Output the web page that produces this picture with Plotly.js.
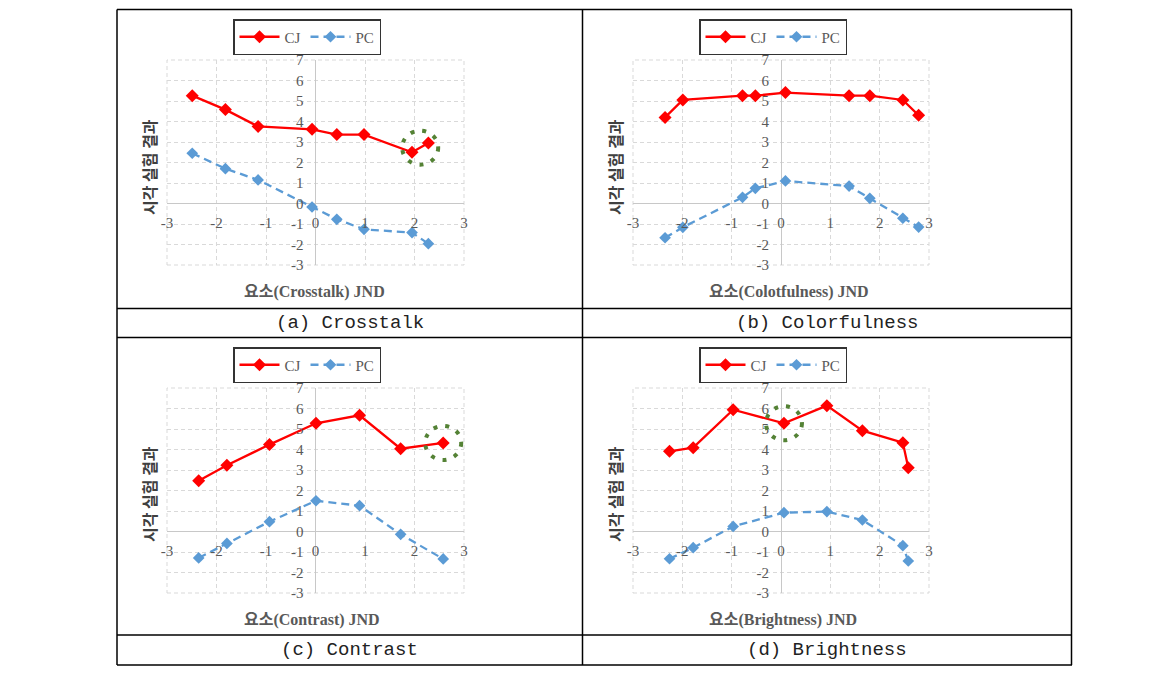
<!DOCTYPE html>
<html>
<head>
<meta charset="utf-8">
<script src="https://cdn.plot.ly/plotly-3.0.1.min.js"></script>
<style>html,body{margin:0;padding:0;background:#fff;}#chart{width:1151px;height:673px;}</style>
</head>
<body>
<div id="chart"></div>
<script>
// ---- data ----
const seriesNames = ["CJ", "PC"];

const crosstalkX  = [-2.49, -1.82, -1.16, -0.07, 0.43, 0.98, 1.95, 2.28];
const crosstalkCJ = [5.26, 4.58, 3.76, 3.62, 3.36, 3.36, 2.50, 2.95];
const crosstalkPC = [2.45, 1.70, 1.15, -0.17, -0.77, -1.26, -1.42, -1.96];

const colorX  = [-2.35, -1.99, -0.78, -0.52, 0.09, 1.38, 1.80, 2.47, 2.79];
const colorCJ = [4.20, 5.05, 5.26, 5.26, 5.41, 5.26, 5.26, 5.05, 4.30];
const colorPC = [-1.67, -1.16, 0.30, 0.74, 1.10, 0.85, 0.25, -0.72, -1.15];

const contrastX  = [-2.36, -1.79, -0.93, 0.01, 0.89, 1.72, 2.58];
const contrastCJ = [2.48, 3.23, 4.24, 5.28, 5.67, 4.04, 4.32];
const contrastPC = [-1.29, -0.58, 0.48, 1.50, 1.26, -0.14, -1.34];

const brightX  = [-2.26, -1.78, -0.97, 0.06, 0.93, 1.65, 2.47, 2.58];
const brightCJ = [3.91, 4.09, 5.94, 5.28, 6.14, 4.92, 4.33, 3.11];
const brightPC = [-1.33, -0.79, 0.25, 0.92, 0.97, 0.56, -0.69, -1.44];

const xTickVals = [-3, -2, -1, 0, 1, 2, 3];
const xTickText = ["-3", "-2", "-1", "0", "1", "2", "3"];
const yTickVals = [-3, -2, -1, 0, 1, 2, 3, 4, 5, 6, 7];
const yTickText = ["-3", "-2", "-1", "0", "1", "2", "3", "4", "5", "6", "7"];

const xTitles  = ["요소(Crosstalk) JND", "요소(Colotfulness) JND", "요소(Contrast) JND", "요소(Brightness) JND"];
const yTitle   = "시각 실험 결과";
const captions = ["(a) Crosstalk", "(b) Colorfulness", "(c) Contrast", "(d) Brightness"];

// highlighted CJ point indices (dotted circle centred on their mean)
const highlightIdx = [[6, 7], [], [6], [3]];

// ---- layout helpers ----
const W = 1151, H = 673;
const px = x => x / W;
const py = y => 1 - y / H;
const XR = [-3, 3], YR = [-3, 7];

const panels = [
  {x: crosstalkX, cj: crosstalkCJ, pc: crosstalkPC, box: [167, 464, 60, 265], col: 0, row: 0, tx: 314},
  {x: colorX,     cj: colorCJ,     pc: colorPC,     box: [633, 929, 60, 265], col: 1, row: 0, tx: 789},
  {x: contrastX,  cj: contrastCJ,  pc: contrastPC,  box: [167, 464, 388, 593], col: 0, row: 1, tx: 312},
  {x: brightX,    cj: brightCJ,    pc: brightPC,    box: [633, 929, 388, 593], col: 1, row: 1, tx: 783}
];

const tickFont = {family: "Liberation Serif, serif", size: 15, color: "#595959"};
const gridCol = "#d9d9d9";
const traces = [];
const layout = {
  width: W, height: H,
  margin: {l: 0, r: 0, t: 0, b: 0},
  paper_bgcolor: "#ffffff", plot_bgcolor: "rgba(0,0,0,0)",
  showlegend: true,
  shapes: [], annotations: []
};

panels.forEach((p, i) => {
  const n = i === 0 ? "" : String(i + 1);
  const [x0, x1, yTop, yBot] = p.box;
  const xd = [px(x0), px(x1)];
  const yd = [py(yBot), py(yTop)];
  const xPos = xd[0] + (0 - XR[0]) / (XR[1] - XR[0]) * (xd[1] - xd[0]);
  const yPos = yd[0] + (0 - YR[0]) / (YR[1] - YR[0]) * (yd[1] - yd[0]);
  const legName = i === 0 ? "legend" : "legend" + (i + 1);

  layout["xaxis" + n] = {
    domain: xd, range: XR, anchor: "free", position: yPos,
    tickmode: "array", tickvals: xTickVals, ticktext: xTickText,
    showgrid: true, gridcolor: gridCol, griddash: "4px,3px", gridwidth: 1,
    zeroline: true, zerolinecolor: "#c8c8c8", zerolinewidth: 1,
    showline: false, ticks: "", ticklabelstandoff: 8,
    tickfont: tickFont, fixedrange: true
  };
  layout["yaxis" + n] = {
    domain: yd, range: YR, anchor: "free", position: xPos,
    tickmode: "array", tickvals: yTickVals, ticktext: yTickText,
    showgrid: true, gridcolor: gridCol, griddash: "4px,3px", gridwidth: 1,
    zeroline: true, zerolinecolor: "#c8c8c8", zerolinewidth: 1,
    showline: false, ticks: "", ticklabelstandoff: 12,
    tickfont: tickFont, fixedrange: true
  };

  // dashed plot-area frame
  layout.shapes.push({
    type: "rect", xref: "x" + n + " domain", yref: "y" + n + " domain",
    x0: 0, x1: 1, y0: 0, y1: 1, layer: "below",
    line: {color: gridCol, width: 1, dash: "4px,3px"}
  });

  traces.push({
    type: "scatter", mode: "lines+markers", name: seriesNames[0],
    x: p.x, y: p.cj, xaxis: "x" + n, yaxis: "y" + n, legend: legName,
    line: {color: "#ff0000", width: 2.3},
    marker: {symbol: "diamond", size: 10, color: "#ff0000"}
  });
  traces.push({
    type: "scatter", mode: "lines+markers", name: seriesNames[1],
    x: p.x, y: p.pc, xaxis: "x" + n, yaxis: "y" + n, legend: legName,
    line: {color: "#5b9bd5", width: 2.3, dash: "8px,5px"},
    marker: {symbol: "diamond", size: 9, color: "#5b9bd5"}
  });

  const legLeft = p.col === 0 ? 233 : 699;
  const legTop = p.row === 0 ? 19 : 347;
  layout[legName] = {
    x: px(legLeft), y: py(legTop), xanchor: "left", yanchor: "top",
    orientation: "h", bgcolor: "#ffffff", bordercolor: "#333333", borderwidth: 1.5,
    font: {family: "Liberation Serif, serif", size: 15, color: "#595959"},
    itemwidth: 40, tracegroupgap: 0
  };

  // dotted highlight circle
  const idx = highlightIdx[i];
  if (idx.length) {
    const cx = idx.reduce((s, k) => s + p.x[k], 0) / idx.length;
    const cy = idx.reduce((s, k) => s + p.cj[k], 0) / idx.length;
    layout.shapes.push({
      type: "circle", xref: "x" + n, yref: "y" + n,
      xsizemode: "pixel", ysizemode: "pixel", xanchor: cx, yanchor: cy,
      x0: -18, x1: 18, y0: -17, y1: 17,
      line: {color: "#548235", width: 4, dash: "4px,8px"}
    });
  }

  // axis titles
  layout.annotations.push({
    xref: "paper", yref: "paper", x: px(p.tx), y: py(p.row === 0 ? 292 : 620),
    xanchor: "center", yanchor: "middle", showarrow: false, text: xTitles[i],
    font: {family: "Liberation Serif, Noto Sans CJK KR, serif", size: 16, color: "#595959", weight: "bold"}
  });
  layout.annotations.push({
    xref: "paper", yref: "paper", x: px(p.col === 0 ? 149 : 615), y: py(p.row === 0 ? 167 : 494),
    xanchor: "center", yanchor: "middle", showarrow: false, textangle: -90, text: yTitle,
    font: {family: "Noto Sans CJK KR, sans-serif", size: 16, color: "#404040", weight: "bold"}
  });
  // caption
  layout.annotations.push({
    xref: "paper", yref: "paper", x: px(p.col === 0 ? 349.5 : 827), y: py(p.row === 0 ? 323 : 650),
    xanchor: "center", yanchor: "middle", showarrow: false, text: captions[i],
    font: {family: "Liberation Mono, monospace", size: 19, color: "#222222"}
  });
});

// table frame
const tl = {color: "#000000", width: 1.5};
[9.5, 308.5, 337.5, 635, 665].forEach(y => layout.shapes.push({
  type: "line", xref: "paper", yref: "paper", x0: px(117), x1: px(1072), y0: py(y), y1: py(y), line: tl
}));
[117, 582.5, 1071.5].forEach(x => layout.shapes.push({
  type: "line", xref: "paper", yref: "paper", x0: px(x), x1: px(x), y0: py(9.5), y1: py(665), line: tl
}));

Plotly.newPlot("chart", traces, layout, {displayModeBar: false, staticPlot: true});
</script>
</body>
</html>
